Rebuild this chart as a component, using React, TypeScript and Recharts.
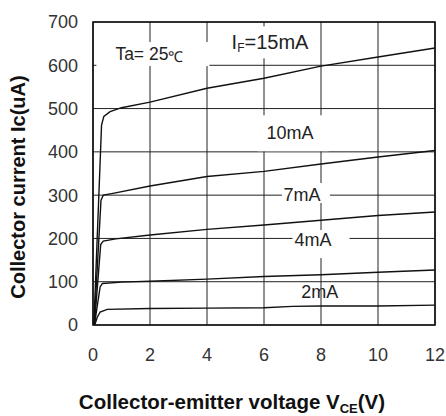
import React from 'react';
import { LineChart, Line, XAxis, YAxis, CartesianGrid, ReferenceDot, ReferenceArea } from 'recharts';

const xTicks = [0, 2, 4, 6, 8, 10, 12];
const yTicks = [0, 100, 200, 300, 400, 500, 600, 700];

const vce15 = [0.03, 0.3, 0.38, 0.6, 1, 2, 4, 6, 8, 10, 12];
const ic15 = [0, 462, 482, 493, 502, 515, 547, 570, 598, 619, 640];
const vce10 = [0.04, 0.28, 0.36, 0.7, 2, 4, 6, 8, 10, 12];
const ic10 = [0, 288, 300, 304, 321, 343, 355, 372, 388, 403];
const vce7 = [0.05, 0.27, 0.36, 0.8, 2, 4, 6, 8, 10, 12];
const ic7 = [0, 186, 194, 199, 208, 221, 231, 242, 253, 261];
const vce4 = [0.05, 0.25, 0.33, 1, 2, 4, 6, 8, 10, 12];
const ic4 = [0, 88, 96, 99, 101, 106, 112, 116, 122, 127];
const vce2 = [0.06, 0.15, 0.25, 0.5, 2, 4, 6, 7, 8, 10, 12];
const ic2 = [0, 18, 30, 36, 38, 39, 40, 43, 44, 44, 46];

// curve labels (box centre in data coordinates)
const labelTexts = ['10mA', '7mA', '4mA', '2mA'];
const labelV = [7.02, 7.47, 8.0, 7.96];
const labelI = [443, 305, 187, 76];

const toData = (v: number[], ic: number[]) => v.map((x, i) => ({ v: x, ic: ic[i] }));
const series = [
  toData(vce15, ic15),
  toData(vce10, ic10),
  toData(vce7, ic7),
  toData(vce4, ic4),
  toData(vce2, ic2),
];

const FONT = '"Liberation Sans", Arial, Helvetica, sans-serif';

const boxSpecs = [
  { w: 71, h: 36, tx: -3, ty: 6, box: true },
  { w: 48, h: 20, tx: -4, ty: 8, box: true },
  { w: 57, h: 28, tx: -8, ty: 2, box: true },
  { w: 0, h: 0, tx: 0, ty: 6, box: false },
];

const makeLabel = (i: number) => (props: any) => {
  const { cx, cy } = props;
  const s = boxSpecs[i];
  return (
    <g>
      {s.box && <rect x={cx - s.w / 2} y={cy - s.h / 2} width={s.w} height={s.h} fill="#fff" />}
      <text x={cx + s.tx} y={cy + s.ty} textAnchor="middle" fontFamily={FONT} fontSize={18} fill="#222">
        {labelTexts[i]}
      </text>
    </g>
  );
};

const taLabel = (props: any) => {
  const { cx, cy } = props;
  return (
    <g>
      <rect x={cx - 57} y={cy - 12} width={113} height={24} fill="#fff" />
      <text x={cx - 4} y={cy + 6} textAnchor="middle" fontFamily={FONT} fontSize={17.5} fill="#222">
        Ta= 25<tspan fontSize={15} dy={2}>℃</tspan>
      </text>
    </g>
  );
};

const ifLabel = (props: any) => {
  const { cx, cy } = props;
  return (
    <g>
      <rect x={cx - 48} y={cy - 16} width={96} height={32} fill="#fff" />
      <text x={cx} y={cy + 7} textAnchor="middle" fontFamily={FONT} fontSize={20} fill="#222">
        I<tspan fontSize={12} dy={3}>F</tspan>
        <tspan dy={-3}>=15mA</tspan>
      </text>
    </g>
  );
};

const xTitle = (props: any) => {
  const vb = props.viewBox;
  return (
    <text x={vb.x + vb.width / 2 - 32} y={vb.y + 84} textAnchor="middle" fontFamily={FONT} fontWeight="bold" fontSize={20.5} fill="#111">
      Collector-emitter voltage V<tspan fontSize={13} dy={4}>CE</tspan>
      <tspan dy={-4}>(V)</tspan>
    </text>
  );
};

const yTitle = (props: any) => {
  const vb = props.viewBox;
  const x = vb.x + 25;
  const y = vb.y + 165;
  return (
    <text x={x} y={y} transform={`rotate(-90, ${x}, ${y})`} textAnchor="middle" fontFamily={FONT} fontWeight="bold" fontSize={20} fill="#111">
      Collector current Ic(uA)
    </text>
  );
};

export default function App() {
  return (
    <div style={{ position: 'absolute', left: 0, top: 0, width: 446, height: 416, background: '#fff' }}>
      <LineChart width={446} height={416} margin={{ top: 22, right: 11, bottom: 0, left: 0 }}>
        <CartesianGrid stroke="#222" strokeWidth={1} />
        <XAxis
          type="number"
          dataKey="v"
          domain={[0, 12]}
          ticks={xTicks}
          interval={0}
          height={91}
          tickLine={false}
          axisLine={false}
          tickMargin={17}
          tick={{ fontSize: 18, fill: '#333', fontFamily: FONT }}
          label={{ content: xTitle }}
        />
        <YAxis
          type="number"
          domain={[0, 700]}
          ticks={yTicks}
          interval={0}
          width={93}
          tickLine={false}
          axisLine={false}
          tickMargin={9}
          tick={{ fontSize: 18, fill: '#333', fontFamily: FONT }}
          label={{ content: yTitle }}
        />
        <ReferenceArea x1={0} x2={12} y1={0} y2={700} fill="none" stroke="#111" strokeWidth={1.6} />
        {series.map((d, i) => (
          <Line
            key={i}
            data={d}
            dataKey="ic"
            type="linear"
            stroke="#111"
            strokeWidth={1.4}
            dot={false}
            activeDot={false}
            isAnimationActive={false}
          />
        ))}
        <ReferenceDot x={2.12} y={626} r={0} shape={taLabel} />
        <ReferenceDot x={6.21} y={653} r={0} shape={ifLabel} />
        {labelTexts.map((t, i) => (
          <ReferenceDot key={t} x={labelV[i]} y={labelI[i]} r={0} shape={makeLabel(i)} />
        ))}
      </LineChart>
    </div>
  );
}
